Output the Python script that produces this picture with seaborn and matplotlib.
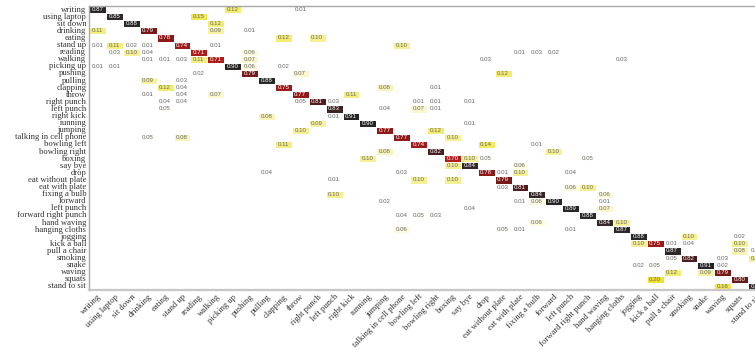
import numpy as np
import matplotlib
matplotlib.use("Agg")
import matplotlib.pyplot as plt
from matplotlib.colors import LinearSegmentedColormap
import seaborn as sns

# Action classes (rows = true class, columns = predicted class)
labels = [
    "writing", "using laptop", "sit down", "drinking", "eating", "stand up",
    "reading", "walking", "picking up", "pushing", "pulling", "clapping",
    "throw", "right punch", "left punch", "right kick", "running", "jumping",
    "talking in cell phone", "bowling left", "bowling right", "boxing",
    "say bye", "drop", "eat without plate", "eat with plate", "fixing a bulb",
    "forward", "left punch", "forward right punch", "hand waving",
    "hanging cloths", "jogging", "kick a ball", "pull a chair", "smoking",
    "snake", "waving", "squats", "stand to sit",
]

# Per-class recognition rate (diagonal of the confusion matrix)
diagonal = [
    0.87, 0.85, 0.88, 0.79, 0.78, 0.74, 0.71, 0.71, 0.90, 0.79,
    0.88, 0.75, 0.77, 0.81, 0.83, 0.91, 0.90, 0.77, 0.77, 0.74,
    0.82, 0.70, 0.84, 0.78, 0.79, 0.81, 0.84, 0.90, 0.89, 0.88,
    0.84, 0.87, 0.88, 0.75, 0.87, 0.82, 0.91, 0.79, 0.80, 0.84,
]

# Confusions: (true class index, predicted class index, rate)
off_diagonal = [
    (0, 8, 0.12), (0, 12, 0.01),
    (1, 6, 0.15),
    (2, 7, 0.12),
    (3, 0, 0.11), (3, 7, 0.09), (3, 9, 0.01),
    (4, 11, 0.12), (4, 13, 0.10),
    (5, 0, 0.01), (5, 1, 0.11), (5, 2, 0.02), (5, 3, 0.01), (5, 7, 0.01), (5, 18, 0.10),
    (6, 1, 0.03), (6, 2, 0.10), (6, 3, 0.04), (6, 9, 0.06), (6, 25, 0.01), (6, 26, 0.03), (6, 27, 0.02),
    (7, 3, 0.01), (7, 4, 0.01), (7, 5, 0.03), (7, 6, 0.11), (7, 9, 0.07), (7, 23, 0.03), (7, 31, 0.03),
    (8, 0, 0.01), (8, 1, 0.01), (8, 9, 0.06), (8, 11, 0.02),
    (9, 6, 0.02), (9, 12, 0.07), (9, 24, 0.12),
    (10, 3, 0.09), (10, 5, 0.03),
    (11, 4, 0.12), (11, 5, 0.04), (11, 17, 0.08), (11, 20, 0.01),
    (12, 3, 0.01), (12, 5, 0.04), (12, 7, 0.07), (12, 15, 0.11),
    (13, 4, 0.04), (13, 5, 0.04), (13, 12, 0.05), (13, 14, 0.03), (13, 19, 0.01), (13, 20, 0.01), (13, 22, 0.01),
    (14, 4, 0.05), (14, 17, 0.04), (14, 19, 0.07), (14, 20, 0.01),
    (15, 10, 0.08), (15, 14, 0.01),
    (16, 13, 0.09), (16, 22, 0.01),
    (17, 12, 0.10), (17, 20, 0.12),
    (18, 3, 0.05), (18, 5, 0.08), (18, 21, 0.10),
    (19, 11, 0.11), (19, 23, 0.14), (19, 26, 0.01),
    (20, 17, 0.08), (20, 27, 0.10),
    (21, 16, 0.10), (21, 22, 0.10), (21, 23, 0.05), (21, 29, 0.05),
    (22, 21, 0.10), (22, 25, 0.06),
    (23, 10, 0.04), (23, 18, 0.03), (23, 24, 0.01), (23, 25, 0.10), (23, 28, 0.04),
    (24, 14, 0.01), (24, 19, 0.10), (24, 21, 0.10),
    (25, 24, 0.03), (25, 28, 0.06), (25, 29, 0.10),
    (26, 14, 0.10), (26, 30, 0.06),
    (27, 17, 0.02), (27, 25, 0.01), (27, 26, 0.06), (27, 30, 0.01),
    (28, 22, 0.04), (28, 30, 0.07),
    (29, 18, 0.04), (29, 19, 0.05), (29, 20, 0.03),
    (30, 26, 0.06), (30, 31, 0.10),
    (31, 18, 0.06), (31, 24, 0.05), (31, 25, 0.01), (31, 28, 0.01),
    (32, 35, 0.10), (32, 38, 0.02),
    (33, 32, 0.10), (33, 34, 0.01), (33, 35, 0.04), (33, 38, 0.10),
    (34, 38, 0.08), (34, 39, 0.05),
    (35, 34, 0.05), (35, 37, 0.03), (35, 39, 0.10),
    (36, 32, 0.02), (36, 33, 0.05), (36, 37, 0.02),
    (37, 34, 0.12), (37, 36, 0.09),
    (38, 33, 0.20),
    (39, 37, 0.16),
]

n = len(labels)
matrix = np.zeros((n, n))
for i, v in enumerate(diagonal):
    matrix[i, i] = v
for r, c, v in off_diagonal:
    matrix[r, c] = v

# white -> yellow -> red -> near black
cmap = LinearSegmentedColormap.from_list(
    "conf",
    [
        (0.00, "#ffffff"),
        (0.045, "#ffffff"),
        (0.07, "#f9f6c6"),
        (0.12, "#f3ec6c"),
        (0.20, "#eee232"),
        (0.45, "#dc7a2c"),
        (0.70, "#b21d1d"),
        (0.78, "#8e1818"),
        (0.815, "#4c1c1c"),
        (0.85, "#2e2a2a"),
        (1.00, "#1c1c1c"),
    ],
)

sns.set_theme(style="white")
fig = plt.figure(figsize=(7.55, 3.5), dpi=100)
ax = fig.add_axes([89 / 755, 1 - 290 / 350, 676 / 755, 284 / 350])

sns.heatmap(
    matrix,
    mask=matrix == 0,
    cmap=cmap,
    vmin=0,
    vmax=1,
    cbar=False,
    annot=True,
    fmt=".2f",
    annot_kws={"fontsize": 4.4, "family": "Liberation Sans"},
    linewidths=0.5,
    linecolor="white",
    xticklabels=labels,
    yticklabels=labels,
    ax=ax,
)

for t in ax.texts:
    val = float(t.get_text())
    t.set_color("white" if val >= 0.5 else "#666666")

ax.tick_params(axis="both", length=0, pad=2)
for lab in ax.get_yticklabels():
    lab.set_fontfamily("Liberation Serif")
    lab.set_fontsize(6.2)
    lab.set_color("#333333")
    lab.set_rotation(0)
for lab in ax.get_xticklabels():
    lab.set_fontfamily("Liberation Serif")
    lab.set_fontsize(6.2)
    lab.set_color("#333333")
    lab.set_rotation(45)
    lab.set_ha("right")
    lab.set_va("top")
    lab.set_rotation_mode("anchor")

for side in ["top", "left", "bottom"]:
    ax.spines[side].set_visible(True)
    ax.spines[side].set_color("#a8a8a8")
    ax.spines[side].set_linewidth(1.0)
ax.spines["bottom"].set_linewidth(1.6)
ax.spines["bottom"].set_color("#c8c8c8")

fig.savefig("out.png", dpi=100)
